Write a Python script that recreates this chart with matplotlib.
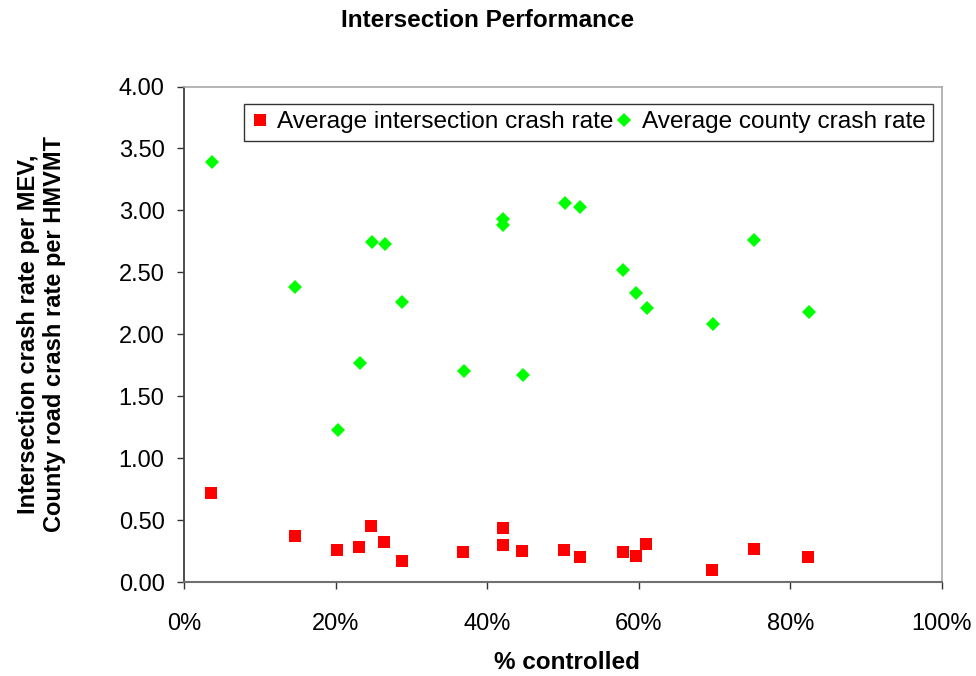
import matplotlib
matplotlib.use("Agg")
import matplotlib.pyplot as plt
from matplotlib.ticker import FuncFormatter, MultipleLocator

plt.rcParams['font.family'] = ['Liberation Sans', 'DejaVu Sans']

pct_controlled = [3.6, 14.7, 20.2, 23.1, 24.7, 26.4, 28.8, 36.8, 42.1, 42.1,
                  44.6, 50.2, 52.3, 57.9, 59.6, 61.0, 69.7, 75.2, 82.4]
intersection_rate = [0.715, 0.374, 0.261, 0.282, 0.454, 0.325, 0.172, 0.245, 0.438, 0.301,
                     0.250, 0.261, 0.200, 0.245, 0.212, 0.309, 0.099, 0.269, 0.200]
pct_controlled_county = [3.65, 14.7, 20.3, 23.2, 24.8, 26.5, 28.8, 36.9, 42.1, 42.1,
                         44.7, 50.3, 52.3, 57.9, 59.7, 61.1, 69.8, 75.2, 82.5]
county_rate = [3.39, 2.378, 1.227, 1.77, 2.744, 2.728, 2.257, 1.705, 2.93, 2.884,
               1.673, 3.06, 3.027, 2.515, 2.33, 2.21, 2.087, 2.76, 2.176]

fig = plt.figure(figsize=(9.76, 6.76), dpi=100)
ax = fig.add_axes([0.1885, 0.139, 0.7765, 0.733])

ax.plot(pct_controlled, intersection_rate, linestyle='none', marker='s',
        markersize=9, markeredgewidth=0, color='#ff0000',
        label='Average intersection crash rate')
ax.plot(pct_controlled_county, county_rate, linestyle='none', marker='D',
        markersize=7.6, markeredgewidth=0, color='#00ff00',
        label='Average county crash rate')

ax.set_xlim(0, 100)
ax.set_ylim(0, 4)
ax.xaxis.set_major_locator(MultipleLocator(20))
ax.yaxis.set_major_locator(MultipleLocator(0.5))
ax.xaxis.set_major_formatter(FuncFormatter(lambda v, p: f"{v:.0f}%"))
ax.yaxis.set_major_formatter(FuncFormatter(lambda v, p: f"{v:.2f}"))
ax.tick_params(axis='both', direction='out', length=5, width=1.0, labelsize=17, color='#333333')
ax.tick_params(axis='x', pad=17)
ax.tick_params(axis='y', pad=9)

ax.spines['left'].set_color('#404040')
ax.spines['left'].set_linewidth(1.3)
ax.spines['bottom'].set_color('#707070')
ax.spines['bottom'].set_linewidth(1.5)
for s in ['top', 'right']:
    ax.spines[s].set_color('#a8a8a8')
    ax.spines[s].set_linewidth(1.2)

ax.set_xlabel('% controlled', fontsize=17.5, fontweight='bold')
ax.xaxis.set_label_coords(0.505, -0.14)
ax.set_ylabel('Intersection crash rate per MEV,\nCounty road crash rate per HMVMT',
              fontsize=17, fontweight='bold', linespacing=1.15)
ax.yaxis.set_label_coords(-0.156, 0.5)
fig.suptitle('Intersection Performance', fontsize=17.5, fontweight='bold', y=0.987)

leg = ax.legend(loc='upper right', bbox_to_anchor=(0.9885, 0.9657), ncol=2,
                fontsize=17.6, frameon=True, fancybox=False, edgecolor='black',
                handlelength=0.7, handletextpad=0.35, columnspacing=0.1,
                borderpad=0.32, borderaxespad=0.0, markerscale=0.9)
leg.get_frame().set_linewidth(1.0)

fig.savefig('out.png', dpi=100)
